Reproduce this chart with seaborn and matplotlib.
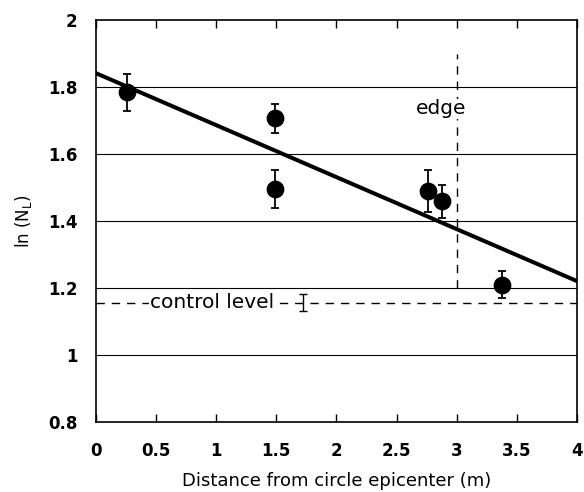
import seaborn as sns
import matplotlib.pyplot as plt
import pandas as pd
import numpy as np

# measured points
dist = [0.26, 1.49, 1.49, 2.76, 2.88, 3.38]
ln_nl = [1.785, 1.707, 1.495, 1.489, 1.459, 1.21]
err = [0.055, 0.043, 0.057, 0.063, 0.05, 0.04]

# regression line
fit_x = [0.0, 4.0]
fit_y = [1.842, 1.221]

# control level and its error bar
control_y = 1.157
control_err = 0.025
control_bar_x = 1.72

edge_x = 3.0
edge_span = [1.2, 1.9]

xticks = [0, 0.5, 1, 1.5, 2, 2.5, 3, 3.5, 4]
xtick_labels = ["0", "0.5", "1", "1.5", "2", "2.5", "3", "3.5", "4"]
yticks = [0.8, 1.0, 1.2, 1.4, 1.6, 1.8, 2.0]
ytick_labels = ["0.8", "1", "1.2", "1.4", "1.6", "1.8", "2"]

sns.set_style("white", {"text.color": "black", "axes.labelcolor": "black",
                        "xtick.color": "black", "ytick.color": "black"})
plt.rcParams["font.family"] = ["DejaVu Sans"]

fig = plt.figure(figsize=(5.84, 4.92), dpi=100)
ax = fig.add_axes([0.164, 0.142, 0.824, 0.817])

df = pd.DataFrame({"dist": dist, "ln_nl": ln_nl, "err": err})

# horizontal grid lines
for yv in yticks[1:-1]:
    ax.axhline(yv, color="black", lw=0.8, zorder=1)

# control level dashed line
ax.axhline(control_y, color="black", lw=1.0, ls=(0, (6, 5)), zorder=1)
ax.errorbar([control_bar_x], [control_y], yerr=[control_err], fmt="none",
            ecolor="black", elinewidth=1.0, capsize=3, zorder=3)
ax.text(0.45, control_y, "control level", fontsize=14.5, va="center", ha="left",
        color="black", bbox=dict(facecolor="white", edgecolor="none", pad=0.5), zorder=2)

# edge line
ax.plot([edge_x, edge_x], edge_span, color="black", lw=1.0, ls=(0, (6, 5)), zorder=1)
ax.text(2.87, 1.735, "edge", fontsize=14.5, ha="center", va="center", color="black",
        bbox=dict(facecolor="white", edgecolor="none", pad=0.5), zorder=2)

# fitted line
sns.lineplot(x=fit_x, y=fit_y, ax=ax, color="black", lw=2.9, zorder=4)

# points with error bars
ax.errorbar(df["dist"], df["ln_nl"], yerr=df["err"], fmt="none",
            ecolor="black", elinewidth=1.3, capsize=3, capthick=1.3, zorder=5)
sns.scatterplot(data=df, x="dist", y="ln_nl", ax=ax, color="black", s=140,
                edgecolor="black", zorder=6)

ax.set_xlim(0, 4)
ax.set_ylim(0.8, 2.0)
ax.set_xticks(xticks)
ax.set_xticklabels(xtick_labels, fontsize=12, fontweight="bold", color="black")
ax.set_yticks(yticks)
ax.set_yticklabels(ytick_labels, fontsize=12, fontweight="bold", color="black")
ax.tick_params(axis="x", direction="in", length=6, width=1, top=True, bottom=True, pad=14)
ax.tick_params(axis="y", length=0, pad=13)

for s in ax.spines.values():
    s.set_color("black")
    s.set_linewidth(1.2)

ax.set_xlabel("Distance from circle epicenter (m)", fontsize=13, labelpad=9, color="black")
ax.set_ylabel("ln (N$_\\mathregular{L}$)", fontsize=12, labelpad=10, color="black")

plt.savefig("out.png", dpi=100)
